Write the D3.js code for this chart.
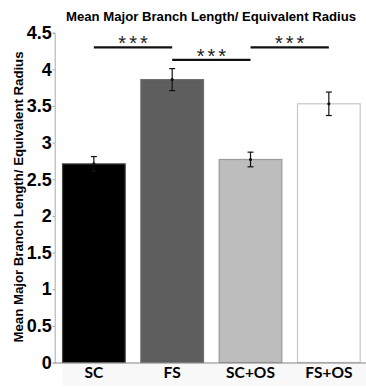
<!DOCTYPE html>
<html lang="en">
<head>
  <meta charset="UTF-8">
  <title>Mean Major Branch Length/ Equivalent Radius</title>
  <script src="https://d3js.org/d3.v7.min.js"></script>
  <style>
    body
    {
      margin: 0;
      background-color: #ffffff;
    }

    svg
    {
      display: block;
      font-family: "Liberation Sans", Arial, sans-serif;
    }
  </style>
</head>
<body>
  <svg width="366" height="387"></svg>
  <script>
    // data
    const groups = ["SC", "FS", "SC+OS", "FS+OS"];
    const means = [2.71, 3.86, 2.77, 3.53];
    const errors = [0.10, 0.15, 0.10, 0.16];
    const yTicks = [0, 0.5, 1, 1.5, 2, 2.5, 3, 3.5, 4, 4.5];
    // significance brackets
    const sigPairs = [["SC", "FS"], ["FS", "SC+OS"], ["SC+OS", "FS+OS"]];
    const sigLevels = [4.30, 4.13, 4.30];
    const sigLabels = ["***", "***", "***"];

    const fills = ["#000000", "#5e5e5e", "#bdbdbd", "#ffffff"];
    const strokes = ["#444444", "#6e6e6e", "#9a9a9a", "#c8c8c8"];

    const width = 366;
    const height = 387;
    const plotLeft = 54.7, plotRight = 368, plotTop = 32.7, plotBottom = 362.5;

    const svg = d3.select("svg");

    const x = d3.scaleBand()
      .domain(groups)
      .range([plotLeft, plotRight])
      .paddingInner(0.2)
      .paddingOuter(0.1);

    const y = d3.scaleLinear()
      .domain([0, 4.5])
      .range([plotBottom, plotTop]);

    //faint panel below the axis
    svg.append("rect")
      .attr("x", x("SC"))
      .attr("y", plotBottom)
      .attr("width", width - x("SC"))
      .attr("height", height - plotBottom - 1)
      .attr("fill", "#f8f8f8");

    //title
    svg.append("text")
      .attr("x", 211)
      .attr("y", 21)
      .attr("text-anchor", "middle")
      .attr("font-size", 12.5)
      .attr("font-weight", "bold")
      .attr("textLength", 290)
      .attr("lengthAdjust", "spacingAndGlyphs")
      .text("Mean Major Branch Length/ Equivalent Radius");

    //y label
    svg.append("text")
      .attr("transform", `translate(22.5,197) rotate(-90)`)
      .attr("text-anchor", "middle")
      .attr("font-size", 12.5)
      .attr("font-weight", "bold")
      .attr("textLength", 291)
      .attr("lengthAdjust", "spacingAndGlyphs")
      .text("Mean Major Branch Length/ Equivalent Radius");

    //bars
    svg.selectAll("rect.bar")
      .data(groups)
      .join("rect")
      .attr("class", "bar")
      .attr("x", d => x(d))
      .attr("y", (d, i) => y(means[i]))
      .attr("width", x.bandwidth())
      .attr("height", (d, i) => y(0) - y(means[i]))
      .attr("fill", (d, i) => fills[i])
      .attr("stroke", (d, i) => strokes[i])
      .attr("stroke-width", 1.2);

    //error bars
    const eb = svg.selectAll("g.err")
      .data(groups)
      .join("g")
      .attr("class", "err")
      .attr("stroke", "#111")
      .attr("stroke-width", 1.2);

    const cx = d => x(d) + x.bandwidth() / 2;
    eb.append("line")
      .attr("x1", cx).attr("x2", cx)
      .attr("y1", (d, i) => y(means[i] + errors[i]))
      .attr("y2", (d, i) => y(means[i] - errors[i]));
    eb.append("line")
      .attr("x1", d => cx(d) - 3).attr("x2", d => cx(d) + 3)
      .attr("y1", (d, i) => y(means[i] + errors[i]))
      .attr("y2", (d, i) => y(means[i] + errors[i]));
    eb.append("line")
      .attr("x1", d => cx(d) - 3).attr("x2", d => cx(d) + 3)
      .attr("y1", (d, i) => y(means[i] - errors[i]))
      .attr("y2", (d, i) => y(means[i] - errors[i]));
    eb.append("circle")
      .attr("cx", cx)
      .attr("cy", (d, i) => y(means[i]))
      .attr("r", 1)
      .attr("fill", "#111");

    //axes
    const yAxis = svg.append("g")
      .attr("transform", `translate(${plotLeft},0)`)
      .call(d3.axisLeft(y).tickValues(yTicks).tickSize(2).tickPadding(1)
        .tickFormat(d3.format("")));
    yAxis.select(".domain").attr("stroke", "#aaaaaa");
    yAxis.selectAll(".tick line").attr("stroke", "#999999");
    yAxis.selectAll(".tick text")
      .attr("font-family", "'Liberation Sans', Arial, sans-serif")
      .attr("font-size", 18)
      .attr("font-weight", "bold")
      .attr("fill", "#000");

    const xAxis = svg.append("g")
      .attr("transform", `translate(0,${plotBottom})`)
      .call(d3.axisBottom(x).tickSize(0).tickPadding(4).tickSizeOuter(0));
    xAxis.select(".domain").attr("stroke", "#888888").attr("stroke-width", 1.2);
    xAxis.selectAll(".tick text")
      .attr("font-family", "Lato, 'Open Sans', sans-serif")
      .attr("font-size", 15.5)
      .attr("font-weight", "bold")
      .attr("fill", "#000");

    //significance brackets
    const sig = svg.selectAll("g.sig")
      .data(sigPairs)
      .join("g")
      .attr("class", "sig");

    sig.append("line")
      .attr("x1", d => cx(d[0]))
      .attr("x2", d => cx(d[1]))
      .attr("y1", (d, i) => y(sigLevels[i]))
      .attr("y2", (d, i) => y(sigLevels[i]))
      .attr("stroke", "#111")
      .attr("stroke-width", 2.2);

    sig.append("text")
      .attr("x", d => (cx(d[0]) + cx(d[1])) / 2 + 1.5)
      .attr("y", (d, i) => y(sigLevels[i]) + 3)
      .attr("text-anchor", "middle")
      .attr("font-size", 20)
      .attr("letter-spacing", 3)
      .attr("fill", "#222")
      .text((d, i) => sigLabels[i]);
  </script>
</body>
</html>
